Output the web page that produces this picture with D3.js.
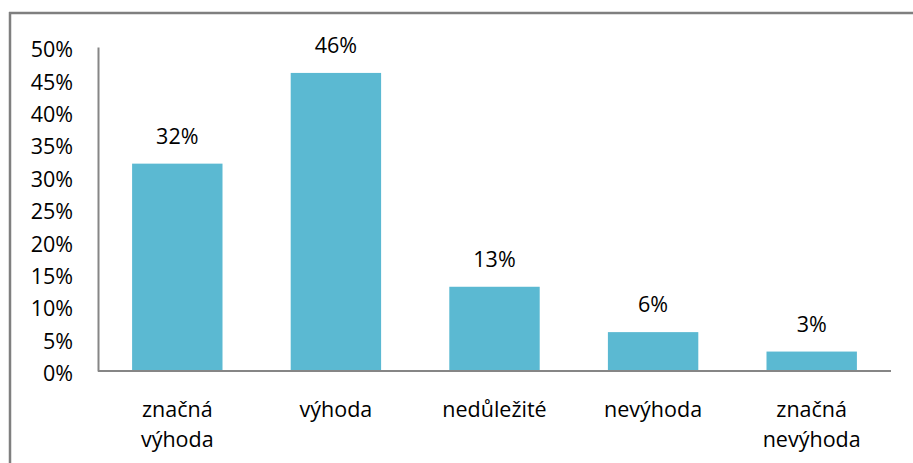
<!DOCTYPE html>
<html>
<head>
<meta charset="utf-8">
<script src="https://cdn.jsdelivr.net/npm/d3@7"></script>
<style>
  body { margin: 0; background: #fff; overflow: hidden; }
  svg { display: block; }
  svg text { font-family: "Open Sans", sans-serif; fill: #000; }
</style>
</head>
<body>
<svg id="chart" width="913" height="463"></svg>
<script>
const categories = [['značná', 'výhoda'], ['výhoda'], ['nedůležité'], ['nevýhoda'], ['značná', 'nevýhoda']];
const shares = [32, 46, 13, 6, 3];
const yTicks = [0, 5, 10, 15, 20, 25, 30, 35, 40, 45, 50];

const width = 913;
const height = 463;
const margin = { left: 98, right: 22, top: 47, bottom: 92 };
const fontSize = '21.5px';
const svg = d3.select('#chart');

// outer chart border (runs off the right and bottom edges)
svg.append('line')
  .attr('x1', 9).attr('y1', 13).attr('x2', width).attr('y2', 13)
  .attr('stroke', '#7f7f7f').attr('stroke-width', 2.5);
svg.append('line')
  .attr('x1', 10).attr('y1', 12).attr('x2', 10).attr('y2', height)
  .attr('stroke', '#7f7f7f').attr('stroke-width', 2.5);

const x = d3.scaleBand()
  .domain(d3.range(categories.length))
  .range([margin.left, width - margin.right])
  .paddingInner(0.43)
  .paddingOuter(0.215);

const y = d3.scaleLinear()
  .domain([0, 50])
  .range([height - margin.bottom, margin.top]);

svg.selectAll('rect.bar')
  .data(shares)
  .enter().append('rect')
  .attr('class', 'bar')
  .attr('x', (d, i) => x(i))
  .attr('y', d => y(d))
  .attr('width', x.bandwidth())
  .attr('height', d => y(0) - y(d))
  .attr('fill', '#5bb9d2');

svg.selectAll('text.val')
  .data(shares)
  .enter().append('text')
  .attr('class', 'val')
  .attr('x', (d, i) => x(i) + x.bandwidth() / 2)
  .attr('y', d => y(d) - 20)
  .attr('text-anchor', 'middle')
  .style('font-size', fontSize)
  .text(d => d + '%');

// y axis
const yAxis = svg.append('g')
  .attr('transform', `translate(${margin.left},0)`)
  .call(d3.axisLeft(y).tickValues(yTicks).tickSize(0).tickPadding(25).tickFormat(d => d + '%'));
yAxis.select('.domain').attr('stroke', '#868686').attr('stroke-width', 2);
yAxis.selectAll('text').style('font-size', fontSize).attr('dy', '0.45em');

// x axis
const xAxis = svg.append('g')
  .attr('transform', `translate(0,${y(0)})`)
  .call(d3.axisBottom(x).tickSize(0).tickFormat(''));
xAxis.select('.domain').attr('stroke', '#868686').attr('stroke-width', 2)
  .attr('d', `M${margin.left},0H${width - margin.right}`);

const labels = svg.selectAll('text.cat')
  .data(categories)
  .enter().append('text')
  .attr('class', 'cat')
  .attr('text-anchor', 'middle')
  .style('font-size', fontSize);
labels.selectAll('tspan')
  .data((d, i) => d.map(t => ({ t, i })))
  .enter().append('tspan')
  .attr('x', d => x(d.i) + x.bandwidth() / 2)
  .attr('y', (d, j) => y(0) + 46 + j * 30)
  .text(d => d.t);
</script>
</body>
</html>
